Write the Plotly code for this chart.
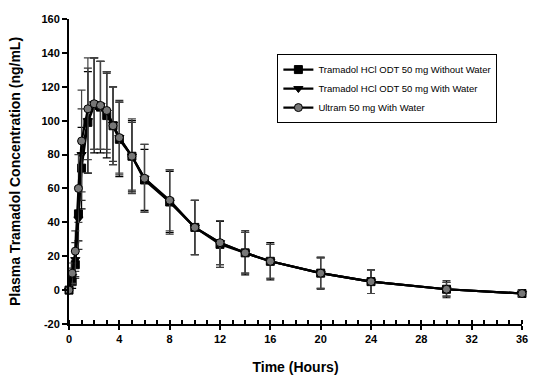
import plotly.graph_objects as go

times = [0, 0.25, 0.5, 0.75, 1, 1.5, 2, 2.5, 3, 3.5, 4, 5, 6, 8, 10, 12, 14, 16, 20, 24, 30, 36]

odt_no_water = [0, 5, 15, 45, 72, 99, 109, 108, 103, 97, 89, 79, 65, 52, 37, 27, 22, 17, 10, 5, 0.5, -2]
odt_no_water_sd = [0, 4, 8, 16, 24, 30, 28, 27, 25, 23, 22, 21, 18, 18, 16, 13.5, 13, 11, 9.5, 7, 5, 2]

odt_water = [0, 8, 18, 42, 80, 100, 110, 109, 105, 98, 90, 79, 66, 52, 37, 28, 22, 17, 10, 5, 0.5, -2]
odt_water_sd = [0, 5, 10, 18, 27, 31, 27, 26, 24, 22, 22, 20, 20, 19, 16, 13, 12, 10, 9, 7, 4, 2]

ultram = [0, 10, 23, 60, 88, 107, 110, 109, 106, 97, 90, 79, 66, 53, 37, 28, 22, 17, 10, 5, 0.5, -2]
ultram_sd = [0, 6, 12, 20, 30, 30, 27, 26, 23, 23, 21, 22, 20, 18, 16, 13, 12, 10, 9, 7, 4, 2]

names = ["Tramadol HCl ODT 50 mg Without Water",
         "Tramadol HCl ODT 50 mg With Water",
         "Ultram 50 mg With Water"]

x_ticks = [0, 4, 8, 12, 16, 20, 24, 28, 32, 36]
y_ticks = [-20, 0, 20, 40, 60, 80, 100, 120, 140, 160]

fig = go.Figure()

series = [
    (names[0], odt_no_water, odt_no_water_sd, "square", "black", "black"),
    (names[1], odt_water, odt_water_sd, "triangle-down", "black", "#333"),
    (names[2], ultram, ultram_sd, "circle", "#777", "#444"),
]

for name, vals, sd, sym, mcol, ecol in series:
    fig.add_trace(go.Scatter(
        x=times, y=vals, name=name, mode="lines+markers",
        line=dict(color="black", width=2.2),
        marker=dict(symbol=sym, size=8, color=mcol, line=dict(color="black", width=1)),
        error_y=dict(type="data", array=sd, visible=True, color=ecol, thickness=1.2, width=4),
        cliponaxis=False,
    ))

fig.update_layout(
    width=536, height=381,
    margin=dict(l=69, r=8, t=19, b=55),
    paper_bgcolor="white", plot_bgcolor="white",
    font=dict(family="Arial, Liberation Sans, sans-serif", color="black"),
    showlegend=True,
    legend=dict(
        x=0.46, y=0.885, xanchor="left", yanchor="top",
        bordercolor="black", borderwidth=1, bgcolor="white",
        font=dict(size=9.5, color="black"),
        itemwidth=30, tracegroupgap=0,
    ),
    xaxis=dict(
        range=[0, 36], tickvals=x_ticks, ticktext=[str(v) for v in x_ticks],
        showline=True, linecolor="black", linewidth=2,
        ticks="outside", ticklen=4, tickwidth=1.5, tickcolor="black",
        minor=dict(dtick=1, ticks="inside", ticklen=4, tickcolor="black"),
        showgrid=False, zeroline=False,
        tickfont=dict(size=11, weight="bold", color="black"),
        title=dict(text="<b>Time (Hours)</b>", font=dict(size=14), standoff=18),
        anchor="y",
    ),
    yaxis=dict(
        range=[-20, 160], tickvals=y_ticks, ticktext=[str(v) for v in y_ticks],
        showline=True, linecolor="black", linewidth=2,
        ticks="outside", ticklen=5, tickwidth=1.5, tickcolor="black",
        showgrid=False, zeroline=False,
        tickfont=dict(size=11, weight="bold", color="black"),
        title=dict(text="<b>Plasma Tramadol Concentration (ng/mL)</b>", font=dict(size=14), standoff=18),
    ),
)

fig.write_html("out.html", config={"displayModeBar": False},
               post_script="document.body.style.margin='0';document.body.style.padding='0';")
